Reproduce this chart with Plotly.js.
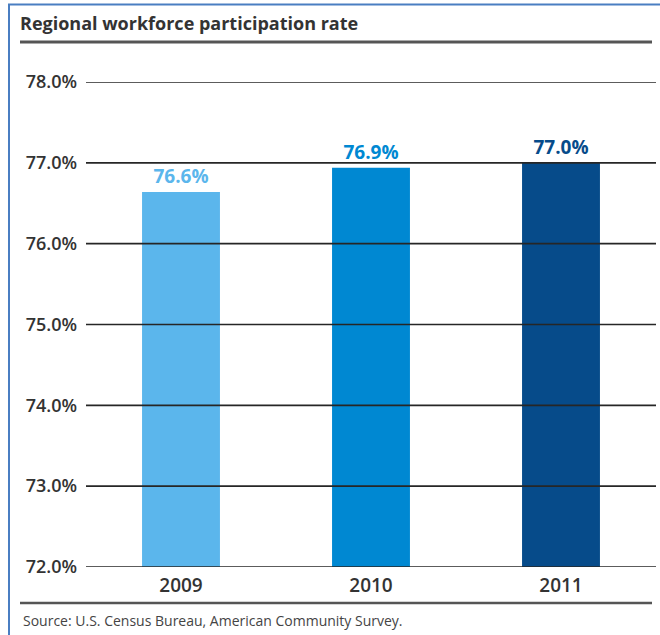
<!DOCTYPE html>
<html>
<head>
<meta charset="utf-8">
<script src="https://cdn.plot.ly/plotly-3.0.1.min.js"></script>
<style>
  html, body { margin: 0; padding: 0; background: #ffffff; }
  #chart { width: 660px; height: 635px; }
</style>
</head>
<body>
<div id="chart"></div>
<script>
// ---- data ----
const years = ["2009", "2010", "2011"];
const participationRate = [76.64, 76.94, 77.0];
const barColors = ["#5BB6EC", "#0088D2", "#064B8A"];
const yTickValues = [72, 73, 74, 75, 76, 77, 78];
const yTickLabels = ["72.0%", "73.0%", "74.0%", "75.0%", "76.0%", "77.0%", "78.0%"];
const chartTitle = "Regional workforce participation rate";
const sourceNote = "Source: U.S. Census Bureau, American Community Survey.";

// ---- layout geometry ----
const W = 660, H = 635;
const M = { l: 86, r: 4, t: 82, b: 68 };
const PW = W - M.l - M.r, PH = H - M.t - M.b;
const px = x => (x - M.l) / PW;
const py = y => (H - M.b - y) / PH;

const FONT = "'Open Sans', Lato, sans-serif";
const TEXT = "#333333";

const trace = {
  type: "bar",
  x: years,
  y: participationRate,
  marker: { color: barColors, line: { width: 0 } },
  text: participationRate.map(v => v.toFixed(1) + "%"),
  textposition: "outside",
  cliponaxis: false,
  textfont: { family: FONT, size: 19, color: barColors, weight: 700 },
  hoverinfo: "skip"
};

// gridlines drawn above the bars, as in the reference
const gridShapes = yTickValues.map(v => ({
  type: "line", layer: "above",
  xref: "paper", yref: "y",
  x0: 0, x1: 1, y0: v, y1: v,
  line: { color: "#262626", width: 1.6 }
}));

const layout = {
  width: W, height: H,
  margin: M,
  paper_bgcolor: "#ffffff",
  plot_bgcolor: "#ffffff",
  showlegend: false,
  bargap: 0.59,
  title: {
    text: chartTitle,
    xref: "container", yref: "container",
    x: 20 / W, xanchor: "left",
    y: 1 - 24 / H, yanchor: "middle",
    font: { family: FONT, size: 18, color: TEXT, weight: 700 }
  },
  xaxis: {
    type: "category",
    showgrid: false, zeroline: false, showline: false,
    ticks: "",
    tickfont: { family: FONT, size: 19, color: TEXT, weight: 600 },
    ticklabelstandoff: 5
  },
  yaxis: {
    range: [72, 78],
    tickvals: yTickValues,
    ticktext: yTickLabels,
    showgrid: false,
    zeroline: false, showline: false, ticks: "",
    tickfont: { family: FONT, size: 18, color: TEXT, weight: 600 },
    ticklabelstandoff: 8
  },
  annotations: [
    {
      text: sourceNote, xref: "paper", yref: "paper",
      x: px(21), y: py(620), xanchor: "left", yanchor: "middle",
      showarrow: false,
      font: { family: FONT, size: 14, color: "#444444" }
    }
  ],
  shapes: gridShapes.concat([
    // title rule
    { type: "line", xref: "paper", yref: "paper", x0: px(20), x1: px(652), y0: py(42), y1: py(42),
      line: { color: "#555555", width: 3 } },
    // bottom rule
    { type: "line", xref: "paper", yref: "paper", x0: px(20), x1: px(652), y0: py(603), y1: py(603),
      line: { color: "#555555", width: 2.5 } },
    // blue frame (top and left)
    { type: "line", xref: "paper", yref: "paper", x0: px(8), x1: px(660), y0: py(4.5), y1: py(4.5),
      line: { color: "#4A7EC2", width: 2 } },
    { type: "line", xref: "paper", yref: "paper", x0: px(9), x1: px(9), y0: py(4), y1: py(635),
      line: { color: "#4A7EC2", width: 2 } }
  ])
};

Plotly.newPlot("chart", [trace], layout, { displayModeBar: false, staticPlot: true });
</script>
</body>
</html>
